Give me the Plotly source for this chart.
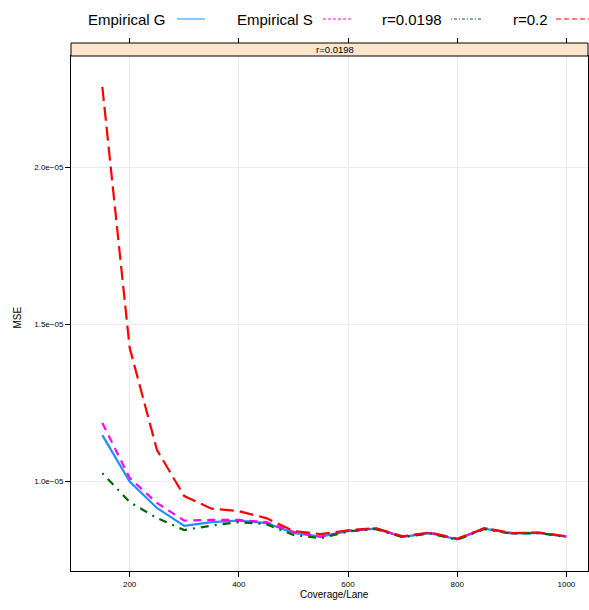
import plotly.graph_objects as go

# Coverage per lane (x values shared by all series)
coverage = [150, 200, 250, 300, 350, 400, 450, 500, 550, 600,
            650, 700, 750, 800, 850, 900, 950, 1000]

# MSE values (x 1e-5) for each estimator
mse_emp_g = [1.146, 0.998, 0.914, 0.857, 0.869, 0.874, 0.866, 0.835, 0.823,
             0.840, 0.848, 0.822, 0.834, 0.814, 0.848, 0.833, 0.835, 0.823]
mse_emp_s = [1.185, 1.010, 0.930, 0.874, 0.876, 0.876, 0.869, 0.838, 0.822,
             0.842, 0.849, 0.823, 0.835, 0.815, 0.850, 0.834, 0.835, 0.823]
mse_r0198 = [1.025, 0.933, 0.882, 0.844, 0.858, 0.869, 0.863, 0.828, 0.818,
             0.839, 0.847, 0.821, 0.833, 0.813, 0.847, 0.832, 0.834, 0.822]
mse_r02 = [2.255, 1.425, 1.099, 0.952, 0.912, 0.904, 0.882, 0.841, 0.831,
           0.843, 0.850, 0.824, 0.836, 0.816, 0.850, 0.834, 0.836, 0.824]

series_names = ["Empirical G", "Empirical S", "r=0.0198", "r=0.2"]
series_values = [mse_emp_g, mse_emp_s, mse_r0198, mse_r02]
series_colors = ["#1E90FF", "#FF00FF", "#006400", "#FF0000"]
series_dash = ["solid", "8px,6px", "2px,6px,8px,6px", "14px,6px"]
legend_dash = ["solid", "3px,2px", "1px,2px,3px,2px", "5px,3px"]

x_ticks = [200, 400, 600, 800, 1000]
y_ticks = [1.0e-5, 1.5e-5, 2.0e-5]
y_tick_text = ["1.0e\u221205", "1.5e\u221205", "2.0e\u221205"]
panel_label = "r=0.0198"

W, H = 589, 610
ML, MR, MT, MB = 71, 1, 43, 39
PW = W - ML - MR
PH = H - MT - MB
STRIP = 13
y_top = (PH - STRIP) / PH

FONT = "Liberation Sans, Arial, Helvetica, sans-serif"


def px_x(px):
    return (px - ML) / PW


def px_y(py):
    return (H - MB - py) / PH


fig = go.Figure()
for name, vals, col, dash in zip(series_names, series_values, series_colors, series_dash):
    fig.add_trace(go.Scatter(
        x=coverage, y=[v * 1e-5 for v in vals], mode="lines", name=name,
        line=dict(color=col, width=2.2, dash=dash), showlegend=False,
    ))

# empty trace so the top tick axis is realised
fig.add_trace(go.Scatter(x=[], y=[], xaxis="x2", showlegend=False))

x_range = [92.6, 1039.6]
axis_font = dict(family=FONT, size=8, color="black")

fig.update_layout(
    width=W, height=H,
    margin=dict(l=ML, r=MR, t=MT, b=MB, pad=0),
    paper_bgcolor="white", plot_bgcolor="white",
    font=dict(family=FONT, color="black"),
    xaxis=dict(range=x_range, tickvals=x_ticks, ticks="outside", ticklen=5,
               tickcolor="black", showline=True, linecolor="black", linewidth=1,
               mirror=True, showgrid=True, gridcolor="#EBEBEB", gridwidth=1,
               zeroline=False, tickfont=axis_font),
    xaxis2=dict(range=x_range, tickvals=x_ticks, overlaying="x", side="top",
                anchor="free", position=1, ticks="outside", ticklen=5,
                tickcolor="black", showticklabels=False, showgrid=False,
                showline=False, zeroline=False),
    yaxis=dict(range=[0.7134e-5, 2.3535e-5], domain=[0, y_top],
               tickvals=y_ticks, ticktext=y_tick_text, ticks="outside",
               ticklen=5, tickcolor="black", showline=True, linecolor="black",
               linewidth=1, mirror=True, showgrid=True, gridcolor="#EBEBEB",
               gridwidth=1, zeroline=False, tickfont=axis_font),
    showlegend=False,
)

shapes = [
    dict(type="rect", xref="paper", yref="paper", x0=0, x1=1, y0=y_top, y1=1,
         fillcolor="#FFE5CC", line=dict(color="black", width=1), layer="above"),
]

annotations = [
    dict(text=panel_label, xref="paper", yref="paper", x=px_x(335), y=px_y(49.5),
         showarrow=False, font=dict(size=9.5, family=FONT), xanchor="center",
         yanchor="middle"),
    dict(text="Coverage/Lane", xref="paper", yref="paper", x=px_x(334), y=px_y(594),
         showarrow=False, font=dict(size=10, family=FONT), xanchor="center",
         yanchor="middle"),
    dict(text="MSE", xref="paper", yref="paper", x=px_x(17.5), y=px_y(318),
         showarrow=False, font=dict(size=10, family=FONT), textangle=-90,
         xanchor="center", yanchor="middle"),
]

# key along the top: label followed by a line sample
key_text_x = [86, 235, 380, 510.5]
key_line_x = [(177, 205), (323, 351), (451, 481), (556, 589)]
for name, col, dash, tx, (lx0, lx1) in zip(series_names, series_colors, legend_dash,
                                            key_text_x, key_line_x):
    annotations.append(dict(text=name, xref="paper", yref="paper", x=px_x(tx),
                            y=px_y(19.5), showarrow=False, xanchor="left",
                            yanchor="middle", font=dict(size=15, family=FONT)))
    shapes.append(dict(type="line", xref="paper", yref="paper", x0=px_x(lx0),
                       x1=px_x(lx1), y0=px_y(19), y1=px_y(19),
                       line=dict(color=col, width=1, dash=dash)))

fig.update_layout(shapes=shapes, annotations=annotations)
fig.write_html("out.html")
